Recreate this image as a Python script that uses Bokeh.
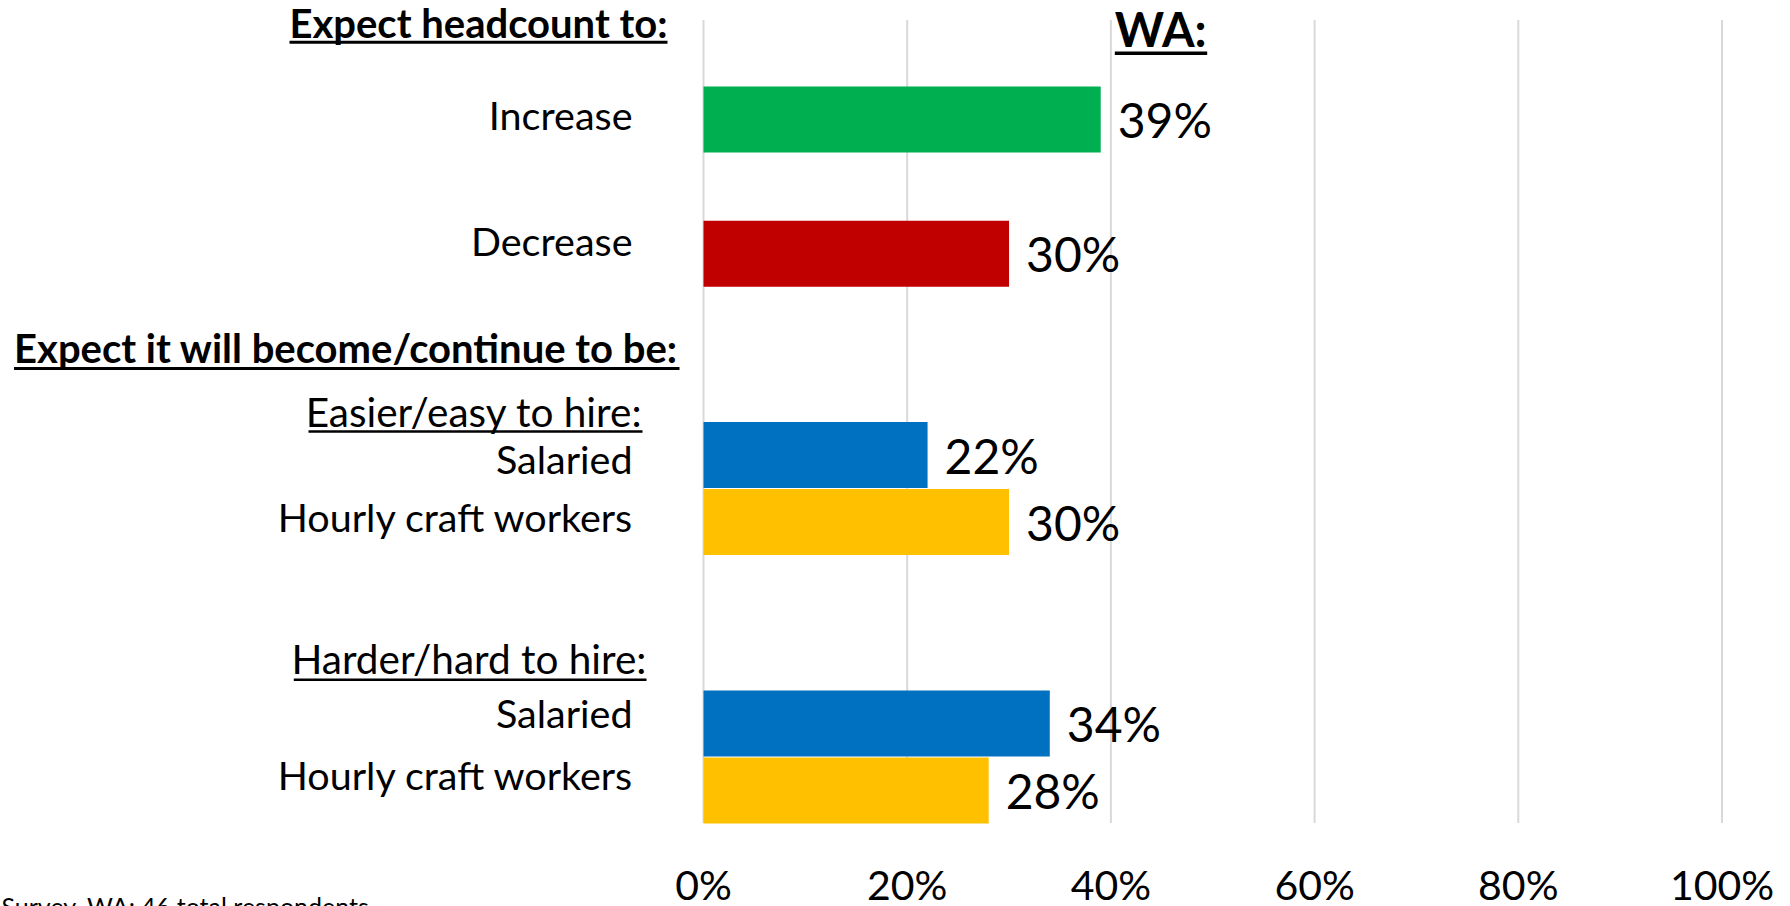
from bokeh.plotting import figure
from bokeh.models import Range1d, ColumnDataSource
from bokeh.core.properties import value
from bokeh.embed import file_html
from bokeh.resources import INLINE

# ---------------- data ----------------
HEADCOUNT_CATS = ["Increase", "Decrease"]
HEADCOUNT_VALS = [0.39, 0.30]
HIRE_GROUPS = ["Easier/easy to hire:", "Harder/hard to hire:"]
WORKER_TYPES = ["Salaried", "Hourly craft workers"]
SALARIED_VALS = [0.22, 0.34]
HOURLY_VALS = [0.30, 0.28]
TICKS = [0.0, 0.2, 0.4, 0.6, 0.8, 1.0]
TICK_LABELS = ["0%", "20%", "40%", "60%", "80%", "100%"]
REGION = "WA:"
HEADER_1 = "Expect headcount to:"
HEADER_2 = "Expect it will become/continue to be:"
FOOTNOTE = "Survey, WA: 46 total respondents"

GREEN, RED, BLUE, YELLOW = "#00B050", "#C00000", "#0070C0", "#FFC000"
GRID = "#D9D9D9"
FONT = value("Lato")

# ---------------- layout ----------------
W, H, M = 1790, 906, 0
X0_PX, PX_PER_UNIT = 703.0, 1018.5      # page x of 0 %, px per 100 %
Y0_PX, SLOT_PX = 119.0, 67.1            # page y of first bar row, px per row slot
BAR_H = 66.0 / SLOT_PX


def xd(px):
    return (px - X0_PX) / PX_PER_UNIT


def yd(py):
    return (py - Y0_PX) / SLOT_PX


p = figure(width=W, height=H, output_backend="svg", toolbar_location=None,
           x_range=Range1d(xd(M), xd(M + W)), y_range=Range1d(yd(M + H), yd(M)),
           x_axis_location=None, y_axis_location=None, min_border=0,
           background_fill_color="white", border_fill_color="white")
p.outline_line_color = None
p.grid.visible = False

# row slots: headcount rows, then two groups of (salaried, hourly)
head_slots = [0, 2]
group_slots = [5, 9]
sal_slots = [g for g in group_slots]
hr_slots = [g + 1 for g in group_slots]

# gridlines from tick values
p.segment(x0=TICKS, x1=TICKS, y0=yd(19.5), y1=yd(822.5), line_color=GRID, line_width=2)

# bars
slots = head_slots + sal_slots + hr_slots
vals = HEADCOUNT_VALS + SALARIED_VALS + HOURLY_VALS
colors = [GREEN, RED] + [BLUE] * len(SALARIED_VALS) + [YELLOW] * len(HOURLY_VALS)
src = ColumnDataSource(dict(y=slots, v=vals, c=colors,
                            t=[f"{round(v * 100)}%" for v in vals]))
p.hbar(y="y", left=0, right="v", height=BAR_H, fill_color="c", line_color=None, source=src)

# value labels
p.text(x="v", y="y", text="t", source=src, x_offset=17, y_offset=0,
       text_font=FONT, text_font_size="48px", text_color="black",
       text_align="left", text_baseline="middle")

# category labels (right aligned)
cat_text = HEADCOUNT_CATS + [WORKER_TYPES[0]] * 2 + [WORKER_TYPES[1]] * 2
cat_x = [xd(632), xd(632), xd(632), xd(632), xd(633.5), xd(633.5)]
cat_y = [yd(113.5), yd(240), yd(457.5), yd(712), yd(515.5), yd(774)]
p.text(x=cat_x, y=cat_y, text=cat_text,
       text_font=FONT, text_font_size="39.5px", text_color="black",
       text_align="right", text_baseline="middle")

# group headers (underlined, regular)
p.text(x=[xd(642), xd(646)], y=[yd(410.5), yd(658)], text=HIRE_GROUPS,
       text_font=FONT, text_font_size="40.5px", text_color="black",
       text_align="right", text_baseline="middle")
p.segment(x0=[xd(308), xd(293.3)], x1=[xd(642), xd(646)], y0=[yd(431), yd(679.3)],
          y1=[yd(431), yd(679.3)], line_color="black", line_width=2.5)

# bold headers
p.text(x=[xd(667)], y=[yd(22)], text=[HEADER_1], text_font=FONT, text_font_size="40px",
       text_font_style="bold", text_color="black", text_align="right",
       text_baseline="middle")
p.text(x=[xd(13.5)], y=[yd(347)], text=[HEADER_2], text_font=FONT, text_font_size="40px",
       text_font_style="bold", text_color="black", text_align="left",
       text_baseline="middle")
p.text(x=[xd(1114.3)], y=[yd(28.7)], text=[REGION], text_font=FONT, text_font_size="47px",
       text_font_style="bold", text_color="black", text_align="left",
       text_baseline="middle")
p.segment(x0=[xd(289), xd(13.5), xd(1114.3)], x1=[xd(667), xd(679), xd(1206.7)],
          y0=[yd(41.7), yd(368), yd(52.7)], y1=[yd(41.7), yd(368), yd(52.7)],
          line_color="black", line_width=[3, 3, 3.5])

# x tick labels
p.text(x=TICKS, y=[yd(884)] * len(TICKS), text=TICK_LABELS, text_font=FONT,
       text_font_size="41px", text_color="black", text_align="center",
       text_baseline="middle")

# footnote (cut off at the bottom as in the original)
p.text(x=[xd(1)], y=[yd(905.5)], text=[FOOTNOTE], text_font=FONT, text_font_size="25px",
       text_color="black", text_align="left", text_baseline="middle")

open("out.html", "w").write(file_html(p, INLINE))
